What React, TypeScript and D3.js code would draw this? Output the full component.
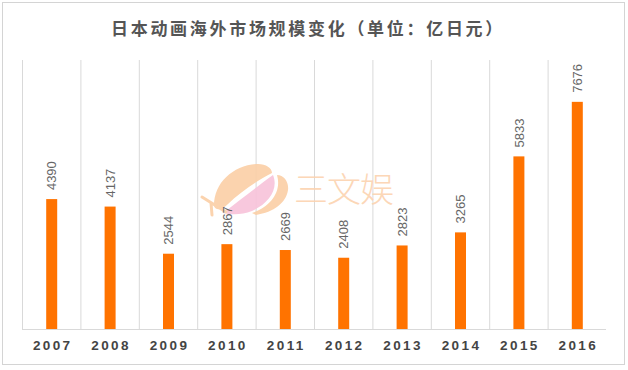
import React from "react";
import * as d3 from "d3";

const years = ["2007", "2008", "2009", "2010", "2011", "2012", "2013", "2014", "2015", "2016"];
const values = [4390, 4137, 2544, 2867, 2669, 2408, 2823, 3265, 5833, 7676];
const title = "日本动画海外市场规模变化（单位：亿日元）";
const watermark = "三文娱";

const W = 628;
const H = 370;
const plot = { left: 22, right: 606, top: 60, bottom: 329 };

export default function App() {
  const x = d3.scaleBand<string>().domain(years).range([plot.left, plot.right]).paddingInner(0).paddingOuter(0);
  const y = d3.scaleLinear().domain([0, 9090]).range([plot.bottom, plot.top]);
  const barW = 11;
  const gridXs = years.map((yr) => x(yr) as number);

  return (
    <svg
      width={W}
      height={H}
      style={{ position: "absolute", left: 0, top: 0, display: "block", background: "#fff" }}
      fontFamily="'Liberation Sans', Arial, sans-serif"
    >
      <rect x={2.5} y={2.5} width={622} height={362} fill="#fff" stroke="#d4d4d4" strokeWidth={1} />
      <text
        x={W / 2 - 6}
        y={35}
        textAnchor="middle"
        fontSize={17}
        fontWeight="bold"
        fill="#555"
        letterSpacing={2.7}
        fontFamily="'Noto Sans CJK SC', sans-serif"
      >
        {title}
      </text>

      {/* grid */}
      {gridXs.map((gx, i) => (
        <line key={i} x1={gx + 0.5} x2={gx + 0.5} y1={plot.top} y2={plot.bottom} stroke="#d9d9d9" strokeWidth={1} />
      ))}
      <line x1={plot.left} x2={plot.right} y1={plot.bottom + 0.5} y2={plot.bottom + 0.5} stroke="#d9d9d9" strokeWidth={1} />

      {/* watermark */}
      <g opacity={0.9}>
        <path d="M 214 206 C 214 182 234 165 258 164 C 266 164 272 168 272 173 C 258 180 240 192 228 204 C 222 210 216 211 214 206 Z" fill="#fbcfa6" />
        <path d="M 223 213 C 240 200 258 186 273 175 C 279 190 268 204 252 211 C 242 215 232 215 223 213 Z" fill="#f8c3da" />
        <path d="M 252 213 C 270 207 282 192 277 175 C 284 175 289 182 288 190 C 286 203 274 212 256 215 Z" fill="#fbcfa6" />
        <path d="M 202 197 L 226 212 M 211 203 L 212 215" stroke="#fbcfa6" strokeWidth={3} strokeLinecap="round" fill="none" />
        <text x={294} y={202} fontSize={34} fill="#fcd3b0" fontFamily="'Noto Sans CJK SC', sans-serif" fontWeight={300} letterSpacing={-1}>
          {watermark}
        </text>
      </g>

      {/* bars */}
      {years.map((yr, i) => {
        const cx = (x(yr) as number) + x.bandwidth() / 2 + 0.5;
        const top = y(values[i]);
        return (
          <g key={yr}>
            <rect x={cx - barW / 2} y={top} width={barW} height={plot.bottom - top} fill="#ff7300" />
            <text
              transform={`translate(${cx + 4.6},${top - 9}) rotate(-90)`}
              fontSize={13}
              fill="#666"
              textAnchor="start"
            >
              {values[i]}
            </text>
            <text
              x={cx + 1}
              y={350}
              textAnchor="middle"
              fontSize={13.5}
              fontWeight="bold"
              fill="#444"
              letterSpacing={2.4}
            >
              {yr}
            </text>
          </g>
        );
      })}
    </svg>
  );
}
